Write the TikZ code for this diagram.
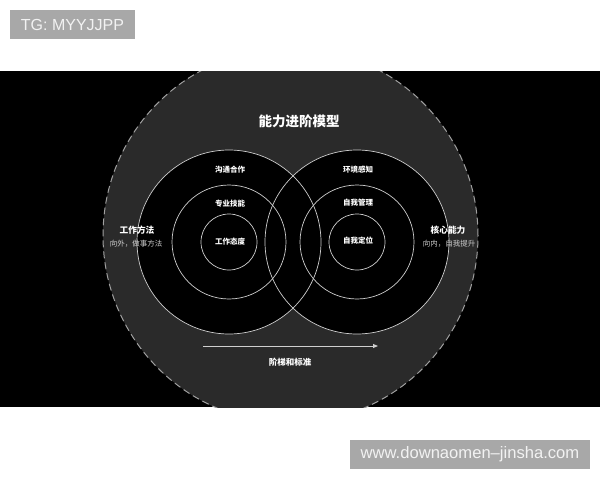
\documentclass[tikz,border=0pt]{standalone}
\usepackage{fontspec}
\setmainfont{Liberation Sans}
\newfontfamily\cjk{Noto Sans CJK SC}
\usetikzlibrary{arrows.meta}
\definecolor{bigfill}{HTML}{2A2A2A}
\definecolor{dashcol}{HTML}{A0A0A0}
\definecolor{ringcol}{HTML}{CFCFCF}
\definecolor{subcol}{HTML}{CDCDCD}
\definecolor{markbox}{HTML}{A8A8A8}
\definecolor{marktext}{HTML}{F2F2F2}
\begin{document}
\begin{tikzpicture}[x=1pt,y=-1pt,
  bigc/.style={circle,fill=bigfill,draw=dashcol,line width=1pt,dash pattern=on 7pt off 4pt,minimum size=375pt,inner sep=0pt},
  disc/.style={circle,fill=black,minimum size=#1,inner sep=0pt},
  ring/.style={circle,draw=ringcol,line width=0.7pt,minimum size=#1,inner sep=0pt},
  titletext/.style={font=\cjk\bfseries\fontsize{13.5}{15}\selectfont,text=white,inner sep=0pt},
  ringlabel/.style={font=\cjk\bfseries\fontsize{7.5}{9}\selectfont,text=white,inner sep=0pt},
  sidehead/.style={font=\cjk\bfseries\fontsize{8.7}{10}\selectfont,text=white,inner sep=0pt},
  sidesub/.style={font=\cjk\fontsize{7.5}{9}\selectfont,text=subcol,inner sep=0pt},
  arrowline/.style={draw=ringcol,line width=0.9pt,-{Triangle[length=5pt,width=4pt]}},
  markbox/.style={fill=markbox,text=marktext,inner sep=0pt,minimum height=29pt}
]
\useasboundingbox (0,0) rectangle (600,480);
\fill[white] (0,0) rectangle (600,480);
\fill[black] (0,71) rectangle (600,407);
\begin{scope}
  \clip (0,71) rectangle (600,407);
  \node[bigc] (big) at (290.5,235.5) {};
\end{scope}
% black discs
\node[disc=184pt] (ldisc) at (229,242) {};
\node[disc=184pt] (rdisc) at (357,242) {};
% rings
\node[ring=184pt] (lout) at (229,242) {};
\node[ring=114pt] (lmid) at (229,242) {};
\node[ring=56pt]  (lin)  at (229,242) {};
\node[ring=184pt] (rout) at (357,242) {};
\node[ring=114pt] (rmid) at (357,242) {};
\node[ring=56pt]  (rin)  at (357,242) {};
% title
\node[titletext] (title) at (299,121) {能力进阶模型};
% left labels
\node[ringlabel] (l1) at (230,170) {沟通合作};
\node[ringlabel] (l2) at (230,204) {专业技能};
\node[ringlabel] (l3) at (230,242) {工作态度};
\node[sidehead] (lh) at (137,230) {工作方法};
\node[sidesub] (ls) at (136,243.5) {向外，做事方法};
% right labels
\node[ringlabel] (r1) at (358,169.5) {环境感知};
\node[ringlabel] (r2) at (358,202.5) {自我管理};
\node[ringlabel] (r3) at (358,240.5) {自我定位};
\node[sidehead] (rh) at (448,230) {核心能力};
\node[sidesub] (rs) at (449,243.5) {向内，自我提升};
% arrow
\coordinate (as) at (203,346);
\coordinate (ae) at (378,346);
\draw[arrowline] (as) -- (ae);
\node[sidehead,font=\cjk\bfseries\fontsize{8.5}{10}\selectfont] (steps) at (290,362) {阶梯和标准};
% watermarks
\node[markbox,minimum width=125pt,font=\fontsize{16}{18}\selectfont] (tg) at (72.5,24.75) {TG: MYYJJPP};
\node[markbox,minimum width=240pt,font=\fontsize{16.6}{18}\selectfont] (url) at (470,454.5) {www.downaomen–jinsha.com};
\end{tikzpicture}
\end{document}
